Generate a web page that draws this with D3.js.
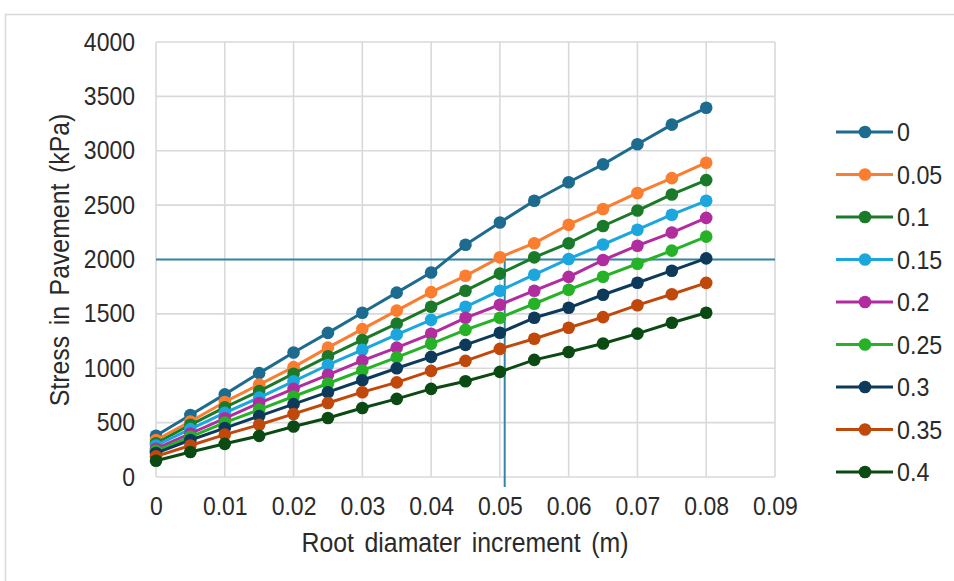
<!DOCTYPE html>
<html>
<head>
<meta charset="utf-8">
<script src="https://cdn.jsdelivr.net/npm/d3@7"></script>
<style>
  html, body { margin: 0; padding: 0; background: #fff; }
  svg { display: block; }
  text { font-family: "Liberation Sans", Arial, sans-serif; fill: #2a2a2a; }
</style>
</head>
<body>
<svg id="chart" width="954" height="581"></svg>
<script>
// ---- data ----
const xValues = [0, 0.005, 0.01, 0.015, 0.02, 0.025, 0.03, 0.035, 0.04, 0.045, 0.05, 0.055, 0.06, 0.065, 0.07, 0.075, 0.08];
const seriesNames = ["0", "0.05", "0.1", "0.15", "0.2", "0.25", "0.3", "0.35", "0.4"];
const s0    = [380, 570, 760, 955, 1145, 1325, 1510, 1695, 1880, 2135, 2340, 2540, 2710, 2875, 3060, 3240, 3395];
const s005  = [340, 510, 690, 850, 1010, 1190, 1360, 1530, 1700, 1850, 2020, 2150, 2320, 2465, 2612, 2748, 2890];
const s01   = [310, 480, 640, 790, 950, 1110, 1260, 1410, 1565, 1713, 1870, 2020, 2150, 2308, 2450, 2598, 2730];
const s015  = [290, 440, 590, 730, 880, 1030, 1170, 1310, 1445, 1565, 1713, 1860, 2005, 2138, 2274, 2412, 2540];
const s02   = [260, 400, 540, 680, 810, 940, 1070, 1190, 1317, 1464, 1584, 1713, 1840, 1995, 2127, 2248, 2383];
const s025  = [240, 370, 500, 620, 740, 860, 980, 1100, 1225, 1353, 1464, 1593, 1722, 1842, 1961, 2082, 2210];
const s03   = [220, 340, 450, 560, 670, 780, 890, 1000, 1105, 1215, 1326, 1464, 1556, 1676, 1786, 1897, 2010];
const s035  = [190, 290, 390, 480, 580, 680, 780, 870, 976, 1068, 1178, 1271, 1372, 1470, 1580, 1680, 1785];
const s04   = [150, 230, 305, 378, 465, 543, 635, 718, 810, 880, 967, 1077, 1150, 1228, 1318, 1418, 1510];
const seriesValues = [s0, s005, s01, s015, s02, s025, s03, s035, s04];
const seriesColors = ["#1d6b8f", "#fb7d2f", "#1b7a29", "#1ca6de", "#b12c9f", "#25b227", "#0d3a5b", "#c1480b", "#0c4a13"];
const xTicks = [0, 0.01, 0.02, 0.03, 0.04, 0.05, 0.06, 0.07, 0.08, 0.09];
const xTickLabels = ["0", "0.01", "0.02", "0.03", "0.04", "0.05", "0.06", "0.07", "0.08", "0.09"];
const yTicks = [0, 500, 1000, 1500, 2000, 2500, 3000, 3500, 4000];
const refX = 0.0507;
const refY = 2000;
const xTitle = "Root diamater increment (m)";
const yTitle = "Stress in Pavement (kPa)";

// ---- layout ----
const svg = d3.select("#chart");
const pLeft = 156, pRight = 775, pTop = 42, pBottom = 477;
const x = d3.scaleLinear().domain([0, 0.09]).range([pLeft, pRight]);
const y = d3.scaleLinear().domain([0, 4000]).range([pBottom, pTop]);
const sx = 0.92; // condensed look of the original text

// outer border
svg.append("rect").attr("x", 5.5).attr("y", 14.5).attr("width", 1000).attr("height", 1000)
  .attr("fill", "none").attr("stroke", "#d9d9d9").attr("stroke-width", 1.5);

// gridlines
const grid = svg.append("g").attr("stroke", "#d9d9d9").attr("stroke-width", 1.6);
grid.selectAll("line.v").data(xTicks).join("line").attr("class", "v")
  .attr("x1", d => x(d)).attr("x2", d => x(d)).attr("y1", y(0)).attr("y2", y(4000));
grid.selectAll("line.h").data(yTicks).join("line").attr("class", "h")
  .attr("x1", x(0)).attr("x2", x(0.09)).attr("y1", d => y(d)).attr("y2", d => y(d));

// axes (labels only, via d3 axis)
const xAxis = d3.axisBottom(x).tickValues(xTicks).tickFormat((d, i) => xTickLabels[i]).tickSize(0).tickPadding(20);
const gx = svg.append("g").attr("transform", `translate(0,${pBottom})`).call(xAxis);
gx.select(".domain").remove();
gx.selectAll("text").attr("font-size", 25).attr("font-family", "Liberation Sans, Arial, sans-serif")
  .attr("fill", "#2a2a2a").attr("transform", `scale(${sx},1)`);

const yAxis = d3.axisLeft(y).tickValues(yTicks).tickFormat(d3.format("d")).tickSize(0).tickPadding(21);
const gy = svg.append("g").attr("transform", `translate(${pLeft},0)`).call(yAxis);
gy.select(".domain").remove();
gy.selectAll("text").attr("font-size", 25).attr("font-family", "Liberation Sans, Arial, sans-serif")
  .attr("fill", "#2a2a2a").attr("x", -21 / sx).attr("transform", `scale(${sx},1)`);

// reference lines
svg.append("line").attr("x1", x(0)).attr("x2", x(0.09)).attr("y1", y(refY)).attr("y2", y(refY))
  .attr("stroke", "#3585a8").attr("stroke-width", 2);
svg.append("line").attr("x1", x(refX)).attr("x2", x(refX)).attr("y1", y(refY)).attr("y2", y(0) + 10)
  .attr("stroke", "#3585a8").attr("stroke-width", 2);

// series
const line = d3.line().x((d, i) => x(xValues[i])).y(d => y(d));
const gs = svg.append("g");
seriesValues.forEach((vals, k) => {
  const g = gs.append("g");
  g.append("path").attr("d", line(vals)).attr("fill", "none")
    .attr("stroke", seriesColors[k]).attr("stroke-width", 3).attr("stroke-linejoin", "round");
  g.selectAll("circle").data(vals).join("circle")
    .attr("cx", (d, i) => x(xValues[i])).attr("cy", d => y(d)).attr("r", 6.3)
    .attr("fill", seriesColors[k]);
});

// axis titles
svg.append("text").attr("transform", `translate(${(pLeft + pRight) / 2 - 0.5},552) scale(${sx},1)`)
  .attr("text-anchor", "middle").attr("font-size", 27).attr("word-spacing", 4).text(xTitle);
svg.append("text").attr("transform", `translate(69,260) rotate(-90) scale(${sx},1)`)
  .attr("text-anchor", "middle").attr("font-size", 27).attr("word-spacing", 4).text(yTitle);

// legend
const legY = d3.scaleLinear().domain([0, seriesNames.length - 1]).range([132, 472]);
const leg = svg.append("g");
seriesNames.forEach((name, k) => {
  const yy = legY(k);
  leg.append("line").attr("x1", 836).attr("x2", 893).attr("y1", yy).attr("y2", yy)
    .attr("stroke", seriesColors[k]).attr("stroke-width", 3);
  leg.append("circle").attr("cx", 865).attr("cy", yy).attr("r", 6.3).attr("fill", seriesColors[k]);
  leg.append("text").attr("transform", `translate(897,${yy}) scale(0.93,1)`)
    .attr("dy", "0.36em").attr("font-size", 25).text(name);
});
</script>
</body>
</html>
